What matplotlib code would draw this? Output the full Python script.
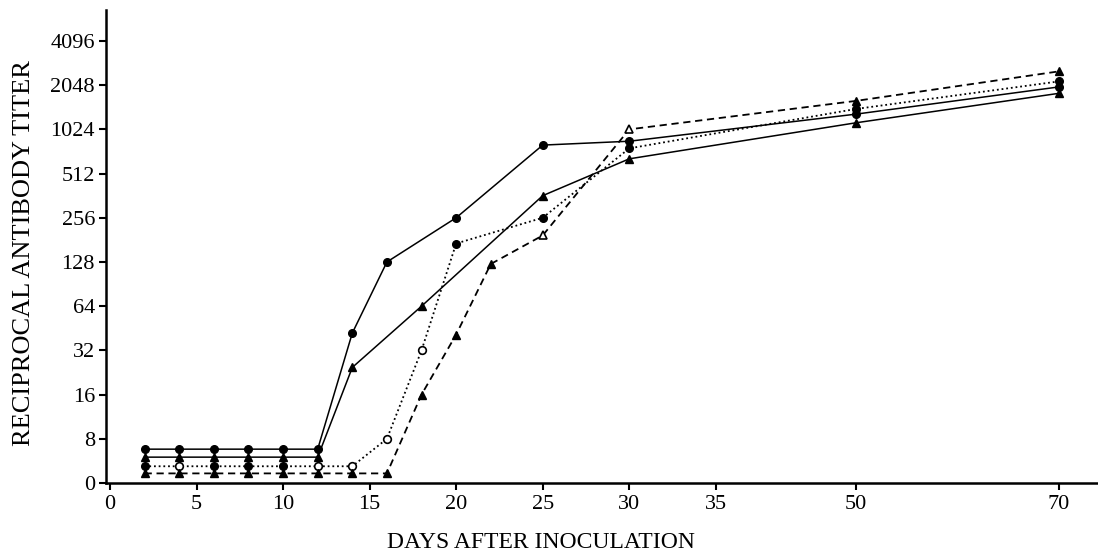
import numpy as np
import matplotlib
matplotlib.use("Agg")
import matplotlib.pyplot as plt

# ---------------- data ----------------
days_a = [2, 4, 6, 8, 10, 12, 14, 16, 20, 25, 30, 50, 70]
titer_a = [6.8, 6.8, 6.8, 6.8, 6.8, 6.8, 42, 128, 256, 800, 850, 1300, 1990]

days_b = [2, 4, 6, 8, 10, 12, 14, 18, 25, 30, 50, 70]
titer_b = [6.0, 6.0, 6.0, 6.0, 6.0, 6.0, 24.5, 64, 362, 645, 1135, 1800]

days_c = [2, 4, 6, 8, 10, 12, 14, 16, 18, 20, 25, 30, 50, 70]
titer_c = [5.2, 5.2, 5.2, 5.2, 5.2, 5.2, 5.2, 8, 32, 171, 256, 760, 1410, 2170]

days_d = [2, 4, 6, 8, 10, 12, 14, 16, 18, 20, 22, 25, 30, 50, 70]
titer_d = [4.65, 4.65, 4.65, 4.65, 4.65, 4.65, 4.65, 4.65, 16, 41, 124, 194, 1024, 1600, 2540]

# which points are drawn with open markers
open_c_days = [4, 12, 14, 16, 18]
open_d_days = [25, 30]

x_ticks = [0, 5, 10, 15, 20, 25, 30, 35, 50, 70]
y_ticks = [4, 8, 16, 32, 64, 128, 256, 512, 1024, 2048, 4096]
y_tick_labels = ["0", "8", "16", "32", "64", "128", "256", "512", "1024", "2048", "4096"]

# ---------------- broken x scale (piecewise linear) ----------------
knot_days = np.array([0.0, 35.0, 50.0, 70.0])
knot_pos = np.array([0.0, 35.0, 43.1, 54.8])


def _pw(x, src, dst):
    x = np.asarray(x, dtype=float)
    y = np.interp(x, src, dst)
    s0 = (dst[1] - dst[0]) / (src[1] - src[0])
    s1 = (dst[-1] - dst[-2]) / (src[-1] - src[-2])
    y = np.where(x < src[0], dst[0] + (x - src[0]) * s0, y)
    y = np.where(x > src[-1], dst[-1] + (x - src[-1]) * s1, y)
    return y


def fwd(x):
    return _pw(x, knot_days, knot_pos)


def inv(x):
    return _pw(x, knot_pos, knot_days)


serif = ["Liberation Serif", "DejaVu Serif"]
plt.rcParams["font.family"] = serif

fig = plt.figure(figsize=(10.98, 5.52), dpi=100)
ax = fig.add_axes([106 / 1098, 1 - 483 / 552, 1 - 106 / 1098, (483 - 10) / 552])
ax.set_xscale("function", functions=(fwd, inv))
ax.set_yscale("log", base=2)

lw = 1.1
msz = 5.5

# series A: solid, filled circles
ax.plot(days_a, titer_a, color="black", lw=lw, ls="-", marker="o", ms=msz,
        mfc="black", mec="black", zorder=3)
# series B: solid, filled triangles
ax.plot(days_b, titer_b, color="black", lw=lw, ls="-", marker="^", ms=msz + 0.5,
        mfc="black", mec="black", zorder=3)
# series C: dotted, circles (some open)
ax.plot(days_c, titer_c, color="black", lw=1.3, ls=(0, (1, 1.6)), zorder=3)
fc = [d for d in days_c if d not in open_c_days]
fv = [v for d, v in zip(days_c, titer_c) if d not in open_c_days]
oc = [d for d in days_c if d in open_c_days]
ov = [v for d, v in zip(days_c, titer_c) if d in open_c_days]
ax.plot(fc, fv, ls="none", marker="o", ms=msz, mfc="black", mec="black", zorder=4)
ax.plot(oc, ov, ls="none", marker="o", ms=msz, mfc="white", mec="black", mew=1.2, zorder=4)
# series D: dashed, triangles (some open)
ax.plot(days_d, titer_d, color="black", lw=1.3, ls=(0, (4, 2.6)), zorder=3)
fd = [d for d in days_d if d not in open_d_days]
fdv = [v for d, v in zip(days_d, titer_d) if d not in open_d_days]
od = [d for d in days_d if d in open_d_days]
odv = [v for d, v in zip(days_d, titer_d) if d in open_d_days]
ax.plot(fd, fdv, ls="none", marker="^", ms=msz + 0.5, mfc="black", mec="black", zorder=4)
ax.plot(od, odv, ls="none", marker="^", ms=msz + 0.5, mfc="white", mec="black", mew=1.2, zorder=4)

ax.set_xlim(-0.23, 73.9)
ax.set_ylim(4, 2 ** 12.70)

ax.set_xticks(x_ticks)
ax.set_xticklabels([str(t) for t in x_ticks])
ax.set_yticks(y_ticks)
ax.set_yticklabels(y_tick_labels)
ax.yaxis.set_minor_locator(matplotlib.ticker.NullLocator())
ax.xaxis.set_minor_locator(matplotlib.ticker.NullLocator())

ax.tick_params(axis="both", direction="out", length=5, width=1.5, colors="black",
               labelsize=16)
ax.tick_params(axis="x", pad=3.5)
ax.tick_params(axis="y", pad=3)

for s in ["top", "right"]:
    ax.spines[s].set_visible(False)
for s in ["left", "bottom"]:
    ax.spines[s].set_linewidth(1.8)
    ax.spines[s].set_color("black")

fig.text(541 / 1098, 1 - 542 / 552, "DAYS AFTER INOCULATION", ha="center", va="center",
         fontsize=17, family=serif)
fig.text(24 / 1098, 1 - 253 / 552, "RECIPROCAL ANTIBODY TITER", ha="center", va="center",
         rotation=90, fontsize=19, family=serif)

fig.savefig("out.png", dpi=100, facecolor="white")
